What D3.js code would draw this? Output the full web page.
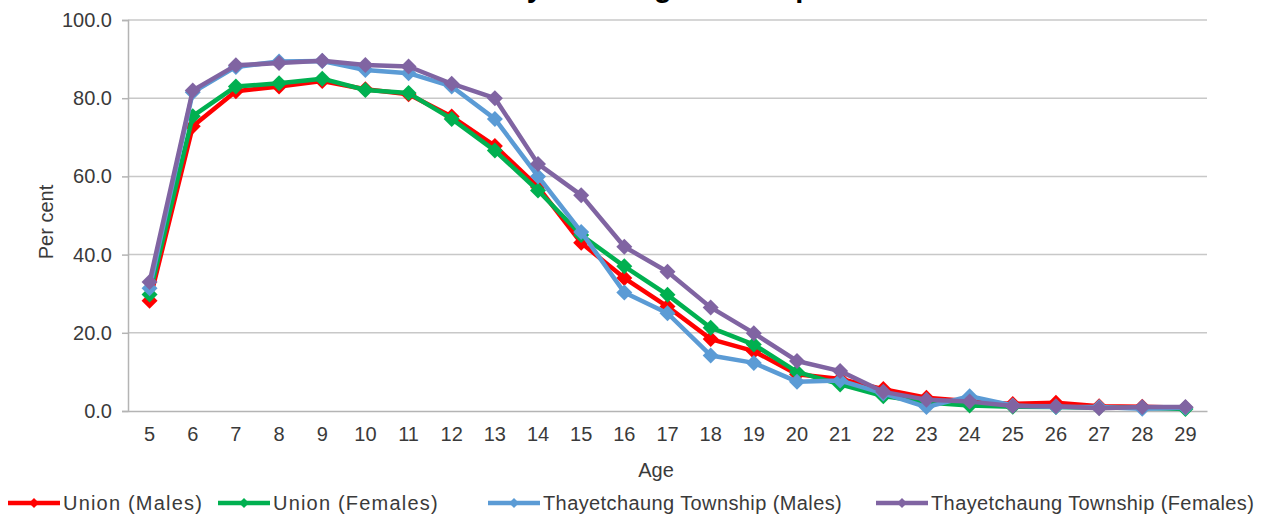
<!DOCTYPE html>
<html>
<head>
<meta charset="utf-8">
<script src="https://cdn.jsdelivr.net/npm/d3@7"></script>
<style>
  html, body { margin: 0; padding: 0; background: #ffffff; }
  svg { display: block; }
  text { font-family: "Liberation Sans", Arial, sans-serif; fill: #3a3a3a; }
</style>
</head>
<body>
<svg id="chart" width="1277" height="520"></svg>
<script>
// Ages on the category axis
const ages = [5, 6, 7, 8, 9, 10, 11, 12, 13, 14, 15, 16, 17, 18, 19, 20, 21, 22, 23, 24, 25, 26, 27, 28, 29];

// Share attending school (per cent) by single year of age
const unionMales = [28.2, 72.8, 81.8, 83.0, 84.4, 82.3, 81.0, 75.3, 67.8, 57.3, 43.0, 34.0, 26.7, 18.4, 15.3, 9.4, 8.2, 5.6, 3.4, 2.5, 1.8, 2.1, 1.2, 1.1, 0.8];
const unionFemales = [29.8, 75.4, 83.0, 83.8, 85.0, 82.1, 81.3, 74.7, 66.6, 56.4, 45.0, 37.0, 29.7, 21.3, 17.0, 10.0, 6.8, 3.8, 2.2, 1.4, 1.1, 1.0, 0.8, 0.8, 0.5];
const townshipMales = [31.4, 81.5, 88.0, 89.4, 89.5, 87.2, 86.4, 83.0, 74.7, 60.0, 45.8, 30.3, 25.0, 14.2, 12.3, 7.5, 7.8, 4.5, 1.0, 3.8, 1.4, 1.0, 1.0, 0.6, 0.8];
const townshipFemales = [33.0, 82.0, 88.4, 89.0, 89.6, 88.5, 88.1, 83.7, 80.0, 63.2, 55.2, 42.0, 35.6, 26.5, 19.9, 12.8, 10.2, 4.9, 2.9, 2.4, 1.3, 1.2, 0.7, 1.0, 1.0];

const seriesNames = ["Union (Males)", "Union (Females)", "Thayetchaung Township (Males)", "Thayetchaung Township (Females)"];
const seriesValues = [unionMales, unionFemales, townshipMales, townshipFemales];
const seriesColors = ["#ff0000", "#00b050", "#5b9bd5", "#8064a2"];

const yTicks = [0, 20, 40, 60, 80, 100];
const titleText = "Thayetchaung Township";
const yTitle = "Per cent";
const xTitle = "Age";

const svg = d3.select("#chart");
const plot = { left: 128, right: 1207, top: 20, bottom: 411 };

const x = d3.scaleBand().domain(ages).range([plot.left, plot.right]);
const y = d3.scaleLinear().domain([0, 100]).range([plot.bottom, plot.top]);
const cx = a => x(a) + x.bandwidth() / 2;

// Title (sits mostly above the top edge of the canvas)
svg.append("text")
  .attr("x", 644).attr("y", -3)
  .attr("text-anchor", "middle")
  .style("font-size", "29px").style("font-weight", "bold")
  .style("fill", "#000")
  .text(titleText);

// Horizontal gridlines
svg.append("g")
  .selectAll("line")
  .data(yTicks.filter(d => d > 0))
  .join("line")
  .attr("x1", plot.left).attr("x2", plot.right)
  .attr("y1", d => y(d)).attr("y2", d => y(d))
  .attr("stroke", "#c8c8c8").attr("stroke-width", 1.5);

// Y axis
const yAxis = svg.append("g")
  .attr("transform", `translate(${plot.left},0)`)
  .call(d3.axisLeft(y).tickValues(yTicks).tickFormat(d3.format(".1f")).tickSize(6).tickPadding(10));
yAxis.select(".domain").attr("stroke", "#b4b4b4").attr("stroke-width", 1.5);
yAxis.selectAll(".tick line").attr("stroke", "#b4b4b4").attr("stroke-width", 1.5);
yAxis.selectAll(".tick text").style("font-size", "20px").style("fill", "#3a3a3a")
  .style("font-family", '"Liberation Sans", Arial, sans-serif');

// X axis
const xAxis = svg.append("g")
  .attr("transform", `translate(0,${plot.bottom})`)
  .call(d3.axisBottom(x).tickSize(0).tickPadding(16));
xAxis.select(".domain").attr("stroke", "#b4b4b4").attr("stroke-width", 1.5);
xAxis.selectAll(".tick text").style("font-size", "20px").style("fill", "#3a3a3a")
  .style("font-family", '"Liberation Sans", Arial, sans-serif');

// Axis titles
svg.append("text")
  .attr("transform", "translate(46,222) rotate(-90)")
  .attr("text-anchor", "middle").attr("dominant-baseline", "central")
  .style("font-size", "20px")
  .text(yTitle);

svg.append("text")
  .attr("x", 656).attr("y", 477)
  .attr("text-anchor", "middle")
  .style("font-size", "20px")
  .text(xTitle);

// Diamond marker path
const diamond = r => `M0,${-r}L${r},0L0,${r}L${-r},0Z`;

// Series lines and markers
const line = d3.line().x((d, i) => cx(ages[i])).y(d => y(d));

seriesValues.forEach((vals, s) => {
  const g = svg.append("g");
  g.append("path")
    .datum(vals)
    .attr("d", line)
    .attr("fill", "none")
    .attr("stroke", seriesColors[s])
    .attr("stroke-width", 4.5)
    .attr("stroke-linejoin", "round");
  g.selectAll("path.marker")
    .data(vals)
    .join("path")
    .attr("class", "marker")
    .attr("transform", (d, i) => `translate(${cx(ages[i])},${y(d)})`)
    .attr("d", diamond(8))
    .attr("fill", seriesColors[s]);
});

// Legend: one entry per series along the bottom edge
const legendStarts = [8, 218, 488, 876];
const ly = 503;
const legend = svg.append("g");
seriesNames.forEach((name, s) => {
  const lx = legendStarts[s];
  const item = legend.append("g");
  item.append("line")
    .attr("x1", lx).attr("x2", lx + 52)
    .attr("y1", ly).attr("y2", ly)
    .attr("stroke", seriesColors[s]).attr("stroke-width", 4.5);
  item.append("path")
    .attr("transform", `translate(${lx + 26},${ly})`)
    .attr("d", diamond(5))
    .attr("fill", seriesColors[s]);
  item.append("text")
    .attr("x", lx + 55).attr("y", ly)
    .attr("dominant-baseline", "central")
    .style("font-size", "20px")
    .style("letter-spacing", s < 2 ? "1.2px" : "0.4px")
    .text(name);
});
</script>
</body>
</html>
